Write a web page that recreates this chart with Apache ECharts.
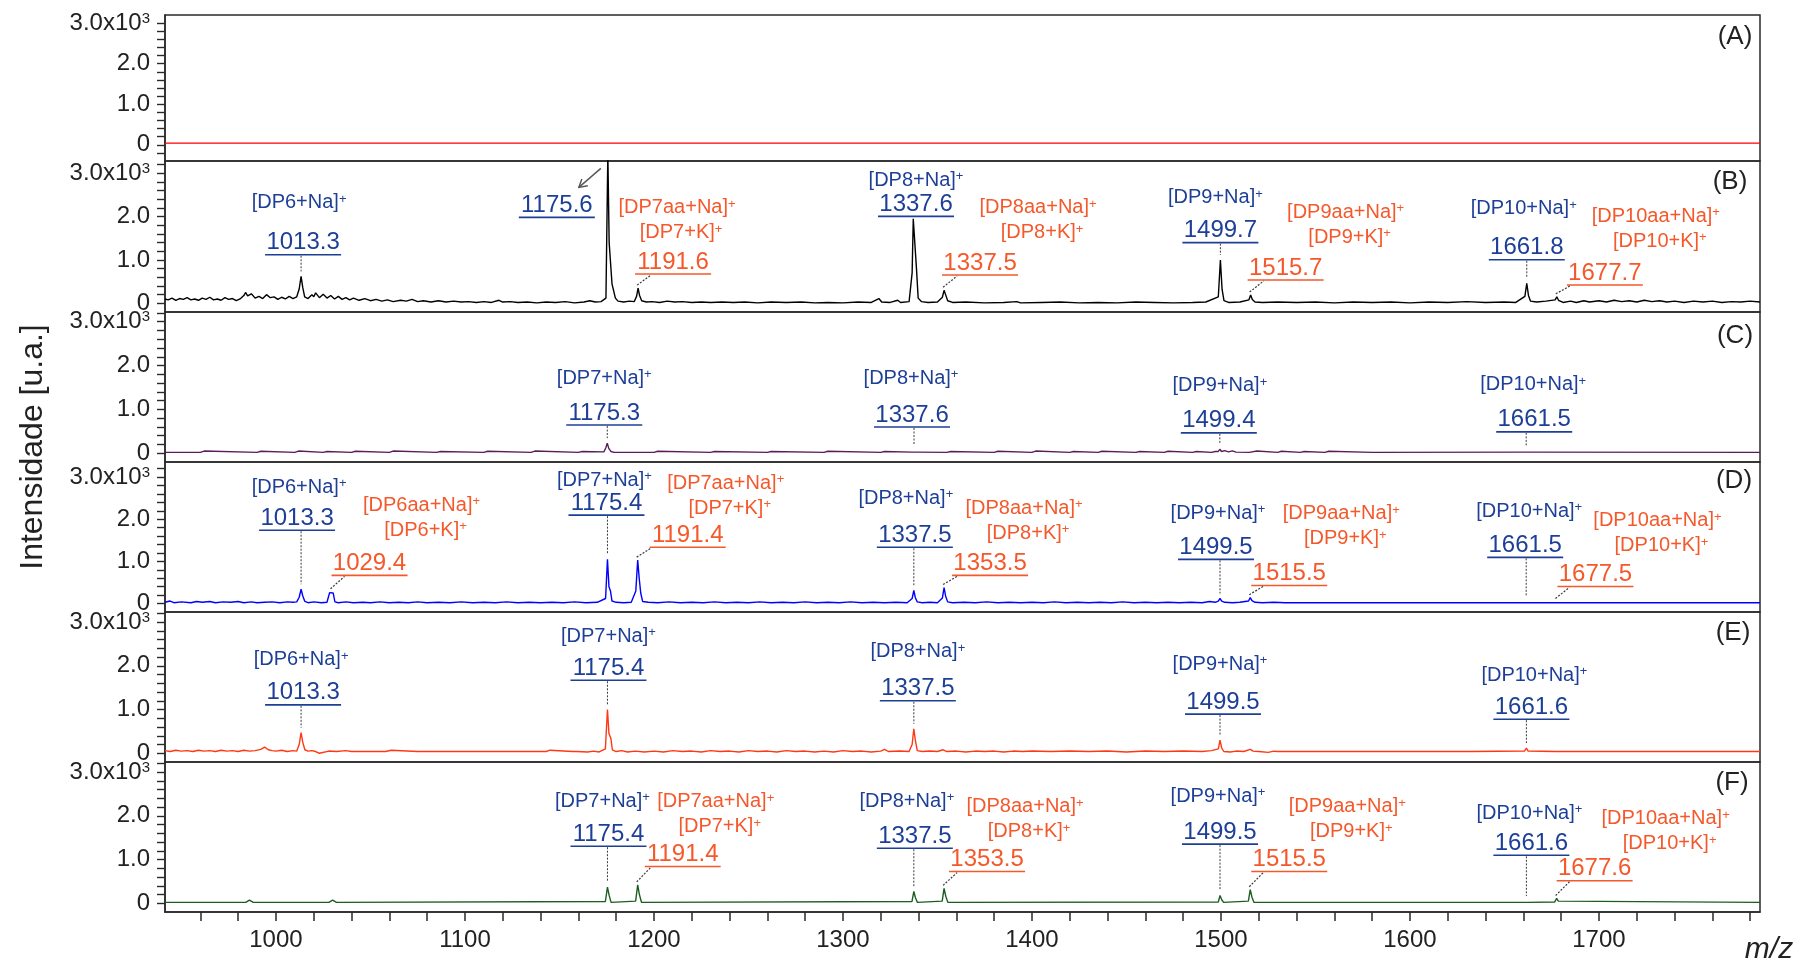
<!DOCTYPE html>
<html>
<head>
<meta charset="utf-8">
<script src="https://cdn.jsdelivr.net/npm/echarts@6/dist/echarts.min.js"></script>
<style>
  html, body { margin: 0; padding: 0; background: #ffffff; }
  #chart { width: 1809px; height: 964px; }
</style>
</head>
<body>
<div id="chart"></div>
<script>
// ---- axes ----
const mzRange = [941.3, 1785.2];
const xTickValues = [960, 980, 1000, 1020, 1040, 1060, 1080, 1100, 1120, 1140, 1160, 1180, 1200,
  1220, 1240, 1260, 1280, 1300, 1320, 1340, 1360, 1380, 1400, 1420, 1440, 1460, 1480, 1500,
  1520, 1540, 1560, 1580, 1600, 1620, 1640, 1660, 1680, 1700, 1720, 1740, 1760, 1780];
const xLabelValues = [1000, 1100, 1200, 1300, 1400, 1500, 1600, 1700];
const yTickStep = 200;
const yLabelValues = [0, 1000, 2000, 3000];
const intensityRanges = [[-400, 3200], [-200, 3279], [-200, 3221], [-200, 3357], [-200, 3232], [-200, 3233]];
const panelNames = ['(A)', '(B)', '(C)', '(D)', '(E)', '(F)'];

// ---- spectra: [m/z, intensity] ----
const specA = [
  [941.3, 40], [958.4, 40], [959, 8], [959.6, 40], [974.4, 40], [975, 12], [975.6, 40],
  [990.4, 40], [991, 10], [991.6, 40], [1016.4, 40], [1017, 12], [1017.6, 40],
  [1028.4, 40], [1029, 8], [1029.6, 40], [1036.4, 40], [1037, 15], [1037.6, 40],
  [1049.4, 40], [1050, 10], [1050.6, 40], [1054.4, 40], [1055, 12], [1055.6, 40],
  [1064.4, 40], [1065, 10], [1065.6, 40], [1071.4, 40], [1072, 12], [1072.6, 40],
  [1084.4, 40], [1085, 8], [1085.6, 40], [1097.4, 40], [1098, 12], [1098.6, 40],
  [1113.4, 40], [1114, 10], [1114.6, 40], [1125.4, 40], [1126, 12], [1126.6, 40],
  [1146.4, 40], [1147, 10], [1147.6, 40], [1159.4, 40], [1160, 12], [1160.6, 40],
  [1183.4, 40], [1184, 10], [1184.6, 40], [1195.4, 40], [1196, 8], [1196.6, 40],
  [1202.4, 40], [1203, 12], [1203.6, 40], [1211.4, 40], [1212, 10], [1212.6, 40],
  [1225.4, 40], [1226, 12], [1226.6, 40], [1239.4, 40], [1240, 8], [1240.6, 40],
  [1254.4, 40], [1255, 12], [1255.6, 40], [1261.4, 40], [1262, 10], [1262.6, 40],
  [1275.4, 40], [1276, 12], [1276.6, 40], [1289.4, 40], [1290, 10], [1290.6, 40],
  [1304.4, 40], [1305, 12], [1305.6, 40], [1319.4, 40], [1320, 8], [1320.6, 40],
  [1334.4, 40], [1335, 12], [1335.6, 40], [1349.4, 40], [1350, 10], [1350.6, 40],
  [1366.4, 40], [1367, 12], [1367.6, 40], [1391.4, 40], [1392, 10], [1392.6, 40],
  [1407.4, 40], [1408, 12], [1408.6, 40], [1429.4, 40], [1430, 10], [1430.6, 40],
  [1444.4, 40], [1445, 12], [1445.6, 40], [1459.4, 40], [1460, 10], [1460.6, 40],
  [1492.4, 40], [1493, 12], [1493.6, 40], [1519.4, 40], [1520, 10], [1520.6, 40],
  [1544.4, 40], [1545, 12], [1545.6, 40], [1577.4, 40], [1578, 10], [1578.6, 40],
  [1639.4, 40], [1640, 12], [1640.6, 40], [1699.4, 40], [1700, 10], [1700.6, 40],
  [1739.4, 40], [1740, 12], [1740.6, 40], [1769.4, 40], [1770, 10], [1770.6, 40], [1785.2, 40]
];

const specB = [
  [941.3, 100], [943, 80], [945, 120], [947, 70], [949, 110], [951, 90], [953, 130], [955, 80],
  [957, 100], [959, 70], [961, 120], [963, 90], [965, 140], [967, 80], [969, 100], [971, 70],
  [973, 130], [975, 90], [977, 110], [979, 60], [981, 100], [983, 180], [984, 250], [985, 170],
  [987, 220], [989, 120], [991, 160], [993, 110], [995, 200], [997, 130], [999, 150], [1001, 90],
  [1003, 140], [1005, 100], [1007, 160], [1009, 110], [1011, 150], [1012.3, 330], [1013.3, 620],
  [1014.2, 360], [1015.2, 150], [1017, 110], [1019, 200], [1020, 150], [1021, 240], [1023, 130],
  [1025, 210], [1027, 120], [1029, 180], [1031, 100], [1033, 160], [1035, 90], [1037, 130],
  [1039, 80], [1041, 120], [1044, 70], [1047, 110], [1050, 60], [1053, 90], [1056, 50], [1059, 80],
  [1062, 40], [1066, 70], [1069, 50], [1072, 90], [1075, 40], [1078, 60], [1082, 30], [1086, 60],
  [1090, 30], [1094, 50], [1098, 30], [1102, 40], [1106, 20], [1110, 40], [1114, 20], [1118, 70],
  [1120, 30], [1124, 40], [1128, 20], [1133, 30], [1138, 10], [1143, 30], [1148, 20], [1153, 40],
  [1158, 10], [1163, 30], [1166, 60], [1169, 30], [1172, 40], [1174.6, 120], [1175.6, 3450],
  [1176.3, 1400], [1177.2, 1380], [1177.8, 450], [1178.6, 420], [1179.6, 120], [1181, 50],
  [1184, 30], [1187, 50], [1189.6, 40], [1190.8, 160], [1191.6, 350], [1192.4, 180], [1193.5, 60],
  [1196, 30], [1199, 40], [1203, 20], [1207, 50], [1211, 30], [1215, 40], [1220, 20], [1225, 30],
  [1230, 20], [1236, 30], [1242, 20], [1248, 30], [1255, 10], [1262, 30], [1270, 20], [1278, 30],
  [1285, 10], [1292, 20], [1300, 10], [1308, 30], [1315, 20], [1319, 110], [1320.5, 30], [1325, 20],
  [1329, 70], [1330.5, 20], [1335, 40], [1336.6, 700], [1337.2, 1950], [1337.6, 1990], [1338.2, 1960],
  [1338.9, 800], [1339.8, 120], [1341.5, 40], [1345, 20], [1350, 30], [1352.6, 140], [1353.5, 300],
  [1354.3, 200], [1355.4, 60], [1358, 20], [1365, 30], [1375, 10], [1385, 20], [1392, 40], [1394, 10],
  [1405, 20], [1415, 30], [1425, 10], [1435, 20], [1445, 10], [1455, 30], [1465, 20], [1475, 10],
  [1485, 20], [1492, 30], [1498.6, 150], [1499.7, 1000], [1500.6, 320], [1501.6, 60], [1504, 20],
  [1510, 30], [1514.8, 80], [1515.7, 190], [1516.6, 90], [1518, 30], [1522, 20], [1530, 30],
  [1540, 20], [1550, 30], [1560, 10], [1570, 30], [1580, 20], [1590, 30], [1600, 10], [1610, 30],
  [1620, 20], [1630, 40], [1640, 20], [1650, 30], [1656, 20], [1660.8, 160], [1661.8, 460],
  [1662.7, 180], [1663.8, 50], [1667, 30], [1672, 50], [1676.8, 80], [1677.7, 150], [1678.6, 70],
  [1681, 20], [1685, 50], [1688, 20], [1692, 60], [1695, 30], [1700, 60], [1704, 30], [1708, 70],
  [1712, 40], [1716, 60], [1720, 30], [1724, 70], [1728, 40], [1732, 60], [1736, 30], [1740, 50],
  [1745, 20], [1750, 50], [1755, 30], [1760, 50], [1765, 20], [1770, 40], [1775, 30], [1780, 50],
  [1785.2, 30]
];

const specC = [
  [941.3, 20], [960, 20], [962, 50], [963, 20], [990, 20], [992, 45], [993, 20], [1010, 20],
  [1012, 50], [1013, 20], [1025, 20], [1027, 40], [1028, 20], [1040, 20], [1042, 45], [1043, 20],
  [1060, 20], [1062, 50], [1063, 20], [1085, 20], [1087, 40], [1088, 20], [1110, 20], [1112, 45],
  [1113, 20], [1135, 20], [1137, 50], [1138, 20], [1160, 20], [1162, 40], [1163, 20], [1173.5, 30],
  [1174.5, 120], [1175.3, 230], [1176.1, 110], [1177.2, 40], [1179, 20], [1200, 20], [1202, 45],
  [1203, 20], [1230, 20], [1232, 40], [1233, 20], [1260, 20], [1262, 40], [1263, 20], [1290, 20],
  [1292, 45], [1293, 20], [1320, 20], [1322, 40], [1323, 20], [1336.6, 25], [1337.6, 70],
  [1338.6, 25], [1355, 20], [1357, 40], [1358, 20], [1380, 20], [1382, 45], [1383, 20], [1400, 20],
  [1402, 50], [1403, 20], [1420, 20], [1422, 40], [1423, 20], [1435, 20], [1437, 45], [1438, 20],
  [1455, 20], [1457, 40], [1458, 20], [1470, 20], [1472, 45], [1473, 20], [1485, 20], [1487, 40],
  [1488, 20], [1495, 20], [1497, 40], [1498.6, 40], [1499.4, 90], [1500.3, 40], [1502, 60],
  [1504, 30], [1506, 55], [1508, 25], [1515, 20], [1519, 50], [1520, 20], [1530, 20], [1532, 45],
  [1533, 20], [1542, 20], [1544, 40], [1545, 20], [1555, 20], [1557, 45], [1558, 20], [1580, 20],
  [1660.6, 25], [1661.5, 60], [1662.4, 25], [1785.2, 20]
];

const specD = [
  [941.3, 30], [944, 60], [946, 20], [950, 40], [955, 20], [958, 50], [961, 30], [965, 50], [968, 20],
  [972, 40], [976, 30], [980, 50], [983, 20], [987, 40], [990, 20], [994, 30], [998, 40], [1002, 20],
  [1006, 40], [1009, 30], [1011, 40], [1012.3, 150], [1013.3, 340], [1014.2, 180], [1015.3, 50],
  [1017, 20], [1020, 40], [1024, 20], [1027, 30], [1028.4, 260], [1029.4, 280], [1030.3, 250],
  [1031.2, 40], [1033, 20], [1037, 40], [1041, 20], [1046, 30], [1050, 20], [1055, 40], [1060, 20],
  [1065, 30], [1070, 20], [1075, 40], [1080, 20], [1086, 30], [1092, 20], [1098, 40], [1104, 20],
  [1110, 30], [1116, 20], [1122, 40], [1128, 20], [1134, 30], [1140, 20], [1146, 30], [1152, 20],
  [1158, 40], [1164, 20], [1170, 30], [1174.4, 120], [1175.4, 1050], [1176.2, 400], [1177, 300],
  [1177.8, 60], [1180, 30], [1184, 20], [1188, 30], [1190.4, 300], [1191.4, 1030], [1192.2, 600],
  [1193, 250], [1194, 50], [1197, 30], [1202, 20], [1208, 40], [1214, 20], [1220, 30], [1226, 20],
  [1232, 40], [1238, 20], [1244, 30], [1250, 20], [1256, 40], [1262, 20], [1268, 30], [1274, 20],
  [1280, 40], [1286, 20], [1292, 30], [1298, 20], [1304, 40], [1310, 20], [1316, 30], [1322, 20],
  [1328, 30], [1334, 20], [1336.6, 120], [1337.5, 310], [1338.3, 140], [1339.3, 40], [1342, 20],
  [1346, 30], [1350, 20], [1352.6, 130], [1353.5, 380], [1354.3, 180], [1355.4, 40], [1358, 20],
  [1364, 30], [1370, 20], [1376, 40], [1382, 20], [1388, 30], [1394, 20], [1400, 30], [1406, 20],
  [1412, 40], [1418, 20], [1424, 30], [1430, 20], [1436, 30], [1442, 20], [1448, 40], [1454, 20],
  [1460, 30], [1466, 20], [1472, 30], [1478, 20], [1484, 30], [1490, 20], [1494, 50], [1497, 30],
  [1498.6, 60], [1499.5, 120], [1500.4, 60], [1502, 30], [1506, 20], [1510, 30], [1514.6, 60],
  [1515.5, 140], [1516.4, 70], [1518, 30], [1522, 20], [1528, 30], [1534, 20], [1540, 20],
  [1660.6, 20], [1661.5, 50], [1662.4, 20], [1676.6, 20], [1677.5, 50], [1678.4, 20], [1785.2, 20]
];

const specE = [
  [941.3, 60], [944, 40], [947, 70], [950, 50], [953, 60], [956, 40], [959, 70], [962, 50], [965, 60],
  [968, 40], [971, 70], [974, 50], [977, 60], [980, 40], [983, 70], [986, 50], [989, 60], [992, 90],
  [994, 140], [996, 80], [998, 60], [1000, 50], [1003, 70], [1006, 40], [1009, 60], [1011, 50],
  [1012.3, 200], [1013.3, 470], [1014.2, 250], [1015.3, 80], [1017, 50], [1019, 60], [1021, 40],
  [1023, 0], [1024, 40], [1028, 50], [1032, 40], [1037, 60], [1040, 40], [1050, 40], [1058, 40],
  [1059, 80], [1061, 70], [1062, 40], [1075, 40], [1076, 80], [1077, 40], [1090, 40], [1091, 0],
  [1092, 40], [1110, 40], [1130, 40], [1131, 0], [1132, 40], [1143, 40], [1145, 70], [1146, 40],
  [1157, 40], [1158, 80], [1159, 40], [1165, 30], [1168, 50], [1171, 30], [1174.3, 100],
  [1175.4, 1000], [1176.2, 450], [1177.2, 340], [1178, 80], [1180, 40], [1183, 60], [1186, 30],
  [1190, 50], [1195, 30], [1200, 50], [1205, 30], [1210, 60], [1215, 40], [1220, 50], [1225, 30],
  [1230, 60], [1235, 40], [1240, 50], [1245, 30], [1250, 60], [1255, 40], [1260, 50], [1265, 30],
  [1270, 60], [1275, 40], [1280, 50], [1285, 30], [1290, 50], [1295, 30], [1300, 60], [1305, 40],
  [1310, 50], [1315, 30], [1320, 50], [1322, 90], [1324, 40], [1330, 50], [1335, 40], [1336.6, 200],
  [1337.5, 560], [1338.3, 300], [1339.3, 60], [1342, 40], [1346, 50], [1350, 40], [1353, 80],
  [1355, 40], [1360, 50], [1365, 30], [1370, 50], [1375, 40], [1380, 50], [1385, 30], [1390, 50],
  [1395, 40], [1400, 50], [1410, 40], [1420, 50], [1430, 40], [1440, 50], [1450, 30], [1460, 50],
  [1470, 40], [1480, 50], [1490, 40], [1495, 60], [1498.6, 100], [1499.5, 300], [1500.4, 120],
  [1501.5, 40], [1505, 30], [1508, 50], [1512, 40], [1515.5, 90], [1517, 50], [1520, 40], [1525, 20],
  [1528, 50], [1530, 40], [1535, 40], [1536, 70], [1537, 40], [1560, 40], [1561, 60], [1562, 40],
  [1570, 40], [1571, 60], [1572, 40], [1590, 40], [1591, 70], [1592, 40], [1615, 40], [1616, 60],
  [1617, 40], [1630, 40], [1631, 60], [1632, 40], [1660.6, 50], [1661.6, 120], [1662.5, 50],
  [1663.5, 40], [1677, 40], [1678, 70], [1679, 40], [1785.2, 40]
];

const specF = [
  [941.3, 20], [957, 20], [958, 60], [959, 20], [984, 20], [986, 70], [988, 20], [1013, 20],
  [1014, 60], [1015, 20], [1028, 20], [1030, 70], [1032, 20], [1174.3, 40], [1175.4, 370],
  [1176.3, 180], [1177.3, 20], [1190.3, 50], [1191.4, 420], [1192.3, 200], [1193.4, 20],
  [1336.5, 40], [1337.5, 270], [1338.4, 120], [1339.4, 20], [1352.5, 50], [1353.5, 340],
  [1354.4, 160], [1355.5, 20], [1498.6, 30], [1499.5, 180], [1500.4, 80], [1501.4, 20],
  [1514.5, 50], [1515.5, 310], [1516.4, 140], [1517.5, 20], [1660.8, 20], [1661.6, 50],
  [1662.4, 20], [1676.6, 30], [1677.6, 110], [1678.5, 50], [1679.5, 20], [1785.2, 20]
];

// ---- peak assignments (kind: na = sodium adduct, aa = acid/potassium adduct, ref = arrowed) ----
const ionsB = [
  { kind: 'na', mz: 1013.3, name: '[DP6+Na]', text: '1013.3' },
  { kind: 'ref', mz: 1175.6, text: '1175.6' },
  { kind: 'aa', mz: 1191.6, name: '[DP7aa+Na]', alt: '[DP7+K]', text: '1191.6' },
  { kind: 'na', mz: 1337.6, name: '[DP8+Na]', text: '1337.6' },
  { kind: 'aa', mz: 1353.5, name: '[DP8aa+Na]', alt: '[DP8+K]', text: '1337.5' },
  { kind: 'na', mz: 1499.7, name: '[DP9+Na]', text: '1499.7' },
  { kind: 'aa', mz: 1515.7, name: '[DP9aa+Na]', alt: '[DP9+K]', text: '1515.7' },
  { kind: 'na', mz: 1661.8, name: '[DP10+Na]', text: '1661.8' },
  { kind: 'aa', mz: 1677.7, name: '[DP10aa+Na]', alt: '[DP10+K]', text: '1677.7' }
];
const ionsC = [
  { kind: 'na', mz: 1175.3, name: '[DP7+Na]', text: '1175.3' },
  { kind: 'na', mz: 1337.6, name: '[DP8+Na]', text: '1337.6' },
  { kind: 'na', mz: 1499.4, name: '[DP9+Na]', text: '1499.4' },
  { kind: 'na', mz: 1661.5, name: '[DP10+Na]', text: '1661.5' }
];
const ionsD = [
  { kind: 'na', mz: 1013.3, name: '[DP6+Na]', text: '1013.3' },
  { kind: 'aa', mz: 1029.4, name: '[DP6aa+Na]', alt: '[DP6+K]', text: '1029.4' },
  { kind: 'na', mz: 1175.4, name: '[DP7+Na]', text: '1175.4' },
  { kind: 'aa', mz: 1191.4, name: '[DP7aa+Na]', alt: '[DP7+K]', text: '1191.4' },
  { kind: 'na', mz: 1337.5, name: '[DP8+Na]', text: '1337.5' },
  { kind: 'aa', mz: 1353.5, name: '[DP8aa+Na]', alt: '[DP8+K]', text: '1353.5' },
  { kind: 'na', mz: 1499.5, name: '[DP9+Na]', text: '1499.5' },
  { kind: 'aa', mz: 1515.5, name: '[DP9aa+Na]', alt: '[DP9+K]', text: '1515.5' },
  { kind: 'na', mz: 1661.5, name: '[DP10+Na]', text: '1661.5' },
  { kind: 'aa', mz: 1677.5, name: '[DP10aa+Na]', alt: '[DP10+K]', text: '1677.5' }
];
const ionsE = [
  { kind: 'na', mz: 1013.3, name: '[DP6+Na]', text: '1013.3' },
  { kind: 'na', mz: 1175.4, name: '[DP7+Na]', text: '1175.4' },
  { kind: 'na', mz: 1337.5, name: '[DP8+Na]', text: '1337.5' },
  { kind: 'na', mz: 1499.5, name: '[DP9+Na]', text: '1499.5' },
  { kind: 'na', mz: 1661.6, name: '[DP10+Na]', text: '1661.6' }
];
const ionsF = [
  { kind: 'na', mz: 1175.4, name: '[DP7+Na]', text: '1175.4' },
  { kind: 'aa', mz: 1191.4, name: '[DP7aa+Na]', alt: '[DP7+K]', text: '1191.4' },
  { kind: 'na', mz: 1337.5, name: '[DP8+Na]', text: '1337.5' },
  { kind: 'aa', mz: 1353.5, name: '[DP8aa+Na]', alt: '[DP8+K]', text: '1353.5' },
  { kind: 'na', mz: 1499.5, name: '[DP9+Na]', text: '1499.5' },
  { kind: 'aa', mz: 1515.5, name: '[DP9aa+Na]', alt: '[DP9+K]', text: '1515.5' },
  { kind: 'na', mz: 1661.6, name: '[DP10+Na]', text: '1661.6' },
  { kind: 'aa', mz: 1677.6, name: '[DP10aa+Na]', alt: '[DP10+K]', text: '1677.6' }
];

// ---- label placement: [intensity of the number's centre, number dx, name dx, name rise] (px offsets) ----
const placeB = [[1395, 2, -2, 40], [2256, -51, 0, 0], [953, 35, 39, 54], [2279, 2, 2, 24], [930, 36, 94, 55],
  [1674, 0, -5, 33], [814, 35, 95, 56], [1279, 0, -3, 39], [698, 48, 99, 57]];
const placeC = [[917, -3, -3, 35], [872, -2, -3, 37], [738, -1, 0, 35], [761, 8, 7, 35]];
const placeD = [[2024, -4, -2, 31], [952, 38, 90, 58], [2381, -1, -3, 23], [1619, 50, 88, 52], [1619, 1, -8, 37],
  [952, 46, 80, 55], [1333, -4, -2, 34], [714, 39, 91, 60], [1381, -1, 3, 34], [690, 39, 101, 54]];
const placeE = [[1382, 2, 0, 33], [1944, 1, 1, 32], [1475, 4, 4, 37], [1171, 3, 0, 38], [1054, 5, 8, 32]];
const placeF = [[1581, 1, -5, 33], [1116, 45, 78, 53], [1535, 1, -7, 35], [1000, 43, 81, 53],
  [1628, 0, -2, 36], [1000, 39, 97, 53], [1372, 5, 3, 30], [791, 38, 109, 50]];

// ---- styling ----
const FONT = "'Liberation Sans', Arial, Helvetica, sans-serif";
const INK = '#222222';
const FRAME = '#2a2a2a';
const BLUE = '#1d3f97';
const ORANGE = '#f5582a';
const LEADER = '#3a3a3a';
const lineColors = ['#ff0000', '#000000', '#5a1d5c', '#0000ff', '#ff3814', '#1c5e22'];
const panelTops = [15, 161, 312, 462, 612, 762];
const panelHeights = [146, 151, 150, 150, 150, 150];
const panelLabelPos = [[1735, 37], [1730, 182], [1735, 336], [1734, 481], [1733, 633], [1732, 783]];

const spectra = [specA, specB, specC, specD, specE, specF];
const ions = [[], ionsB, ionsC, ionsD, ionsE, ionsF];
const places = [[], placeB, placeC, placeD, placeE, placeF];

function apexNear(spec, mz) {
  let best = -Infinity;
  for (const [x, y] of spec) if (Math.abs(x - mz) <= 1.2 && y > best) best = y;
  return best;
}

function richName(text, x, y, color) {
  return {
    type: 'text',
    style: {
      text: text + '{s|+}', x: x, y: y, align: 'center', verticalAlign: 'middle',
      fontSize: 20, fontFamily: FONT, fill: color,
      rich: { s: { fontSize: 13, fontFamily: FONT, fill: color, verticalAlign: 'top' } }
    }
  };
}

function annotationSeries(p) {
  const list = ions[p], place = places[p], spec = spectra[p];
  const tops = list.map(ion => apexNear(spec, ion.mz));
  return {
    type: 'custom',
    xAxisIndex: p,
    yAxisIndex: p,
    coordinateSystem: 'cartesian2d',
    clip: false,
    silent: true,
    animation: false,
    z: 10,
    encode: { x: 0, y: 1 },
    data: list.map((ion, i) => [ion.mz, place[i][0]]),
    renderItem: function (params, api) {
      const i = params.dataIndex;
      const ion = list[i];
      const [numY, numDx, nameDx, nameRise] = place[i];
      const anchor = api.coord([ion.mz, numY]);
      const color = ion.kind === 'aa' ? ORANGE : BLUE;
      const cx = anchor[0] + numDx, cy = anchor[1];
      const ulY = cy + 12;
      const children = [
        { type: 'text', style: { text: ion.text, x: cx, y: cy, align: 'center', verticalAlign: 'middle',
          fontSize: 24, fontFamily: FONT, fill: color } },
        { type: 'line', shape: { x1: cx - 38, y1: ulY, x2: cx + 38, y2: ulY },
          style: { stroke: color, lineWidth: 1.6 } }
      ];
      if (ion.kind === 'na') {
        children.push(richName(ion.name, anchor[0] + nameDx, cy - nameRise, color));
        const top = api.coord([ion.mz, tops[i]]);
        if (top[1] - 5 > ulY + 2) {
          children.push({ type: 'line', shape: { x1: anchor[0], y1: ulY + 1, x2: anchor[0], y2: top[1] - 5 },
            style: { stroke: LEADER, lineWidth: 1, lineDash: [2, 1.5] } });
        }
      } else if (ion.kind === 'aa') {
        children.push(richName(ion.name, anchor[0] + nameDx, cy - nameRise, color));
        children.push(richName(ion.alt, anchor[0] + nameDx + 4, cy - nameRise + 25, color));
        const top = api.coord([ion.mz, tops[i]]);
        children.push({ type: 'line', shape: { x1: anchor[0] - 1, y1: top[1] - 3, x2: anchor[0] + 13, y2: ulY + 1 },
          style: { stroke: LEADER, lineWidth: 1.2, lineDash: [2, 1.5] } });
      } else {
        // arrow pointing at the off-scale peak label
        const hx = cx + 22, hy = cy - 18;
        children.push({ type: 'line', shape: { x1: cx + 44, y1: cy - 37, x2: hx, y2: hy },
          style: { stroke: '#555555', lineWidth: 1.4 } });
        children.push({ type: 'polyline', shape: { points: [[hx + 9, hy - 1.7], [hx, hy], [hx + 3, hy - 8.5]] },
          style: { stroke: '#555555', lineWidth: 1.4, fill: null } });
      }
      return { type: 'group', children: children };
    }
  };
}

// major labels only at 0, 1.0, 2.0 and 3.0 x10^3; every 200 gets a tick
function yLabel(v) {
  if (yLabelValues.indexOf(v) < 0) return '';
  if (v === 0) return '0';
  if (v === 3000) return '3.0x10{s|3}';
  return (v / 1000).toFixed(1);
}

const grid = [], xAxis = [], yAxis = [], series = [];
for (let p = 0; p < 6; p++) {
  const [ymin, ymax] = intensityRanges[p];
  grid.push({ left: 165, width: 1595, top: panelTops[p], height: panelHeights[p], show: true,
    borderColor: FRAME, borderWidth: 1.5, backgroundColor: 'transparent' });
  xAxis.push({
    type: 'value', gridIndex: p, min: mzRange[0], max: mzRange[1], show: p === 5,
    axisLine: { show: true, onZero: false, lineStyle: { color: FRAME, width: 1.5 } },
    axisTick: { show: true, customValues: xTickValues, length: 9, lineStyle: { color: FRAME, width: 1.5 } },
    axisLabel: { show: true, customValues: xLabelValues, formatter: v => String(v), fontSize: 24,
      fontFamily: FONT, color: INK, margin: 16 },
    splitLine: { show: false }
  });
  yAxis.push({
    type: 'value', gridIndex: p, min: ymin, max: ymax, interval: yTickStep, position: 'left',
    axisLine: { show: true, onZero: false, lineStyle: { color: FRAME, width: 1.5 } },
    axisTick: { show: true, length: 8, lineStyle: { color: FRAME, width: 1.4 } },
    axisLabel: { show: true, formatter: yLabel, fontSize: 24, fontFamily: FONT,
      color: INK, margin: 15, showMinLabel: false, showMaxLabel: false, hideOverlap: false,
      rich: { s: { fontSize: 15, fontFamily: FONT, color: INK, verticalAlign: 'top' } } },
    splitLine: { show: false }
  });
  series.push({
    type: 'line', xAxisIndex: p, yAxisIndex: p, data: spectra[p],
    showSymbol: false, symbol: 'none', silent: true, animation: false, clip: true, z: 3,
    lineStyle: { color: lineColors[p], width: 1.4 }, itemStyle: { color: lineColors[p] }
  });
  if (ions[p].length) series.push(annotationSeries(p));
}

const graphic = [
  { type: 'text', x: 33, y: 447, rotation: Math.PI / 2,
    style: { text: 'Intensidade [u.a.]', fontSize: 32, fontFamily: FONT, fill: INK, align: 'center', verticalAlign: 'middle' } },
  { type: 'text', x: 1769, y: 950,
    style: { text: 'm/z', fontSize: 30, fontStyle: 'italic', fontFamily: FONT, fill: INK, align: 'center', verticalAlign: 'middle' } }
];
panelNames.forEach((name, p) => {
  graphic.push({ type: 'text', x: panelLabelPos[p][0], y: panelLabelPos[p][1],
    style: { text: name, fontSize: 26, fontFamily: FONT, fill: INK, align: 'center', verticalAlign: 'middle' } });
});

const chart = echarts.init(document.getElementById('chart'), null, { renderer: 'canvas' });
chart.setOption({
  animation: false,
  backgroundColor: '#ffffff',
  textStyle: { fontFamily: FONT },
  grid: grid,
  xAxis: xAxis,
  yAxis: yAxis,
  series: series,
  graphic: graphic
});
</script>
</body>
</html>
